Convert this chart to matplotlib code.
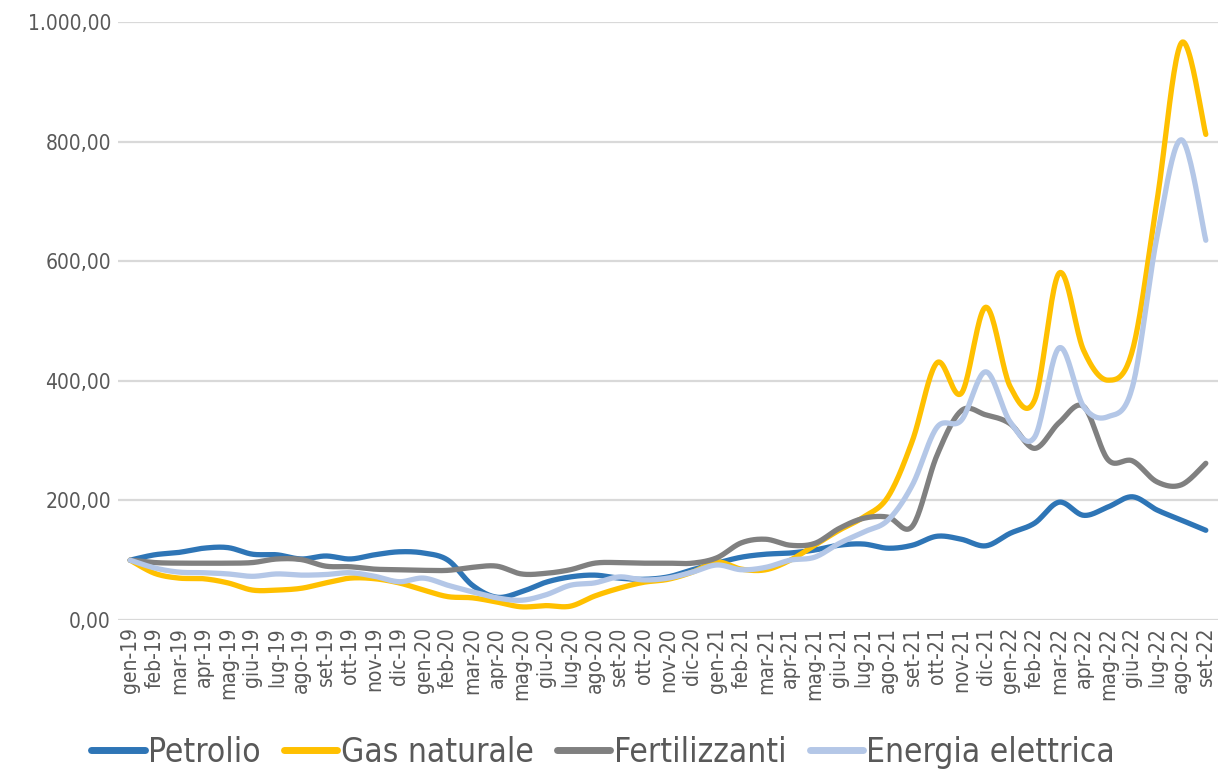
import numpy as np
import matplotlib
matplotlib.use("Agg")
import matplotlib.pyplot as plt
from matplotlib.ticker import FuncFormatter

plt.rcParams['font.family'] = ['Liberation Sans Narrow', 'DejaVu Sans']
plt.rcParams['font.stretch'] = 'condensed'

mesi = ["gen", "feb", "mar", "apr", "mag", "giu", "lug", "ago", "set", "ott", "nov", "dic"]
labels = [m + "-" + a for a in ["19", "20", "21", "22"] for m in mesi][:45]

petrolio = [100, 109, 113, 120, 121, 110, 109, 102, 107, 102, 109, 114, 112, 100, 58, 38, 47, 63, 72, 75,
            70, 68, 72, 84, 95, 105, 110, 112, 117, 125, 127, 120, 125, 140, 135, 124, 145, 162, 197, 175,
            189, 206, 184, 167, 150]
gas = [100, 78, 70, 69, 62, 50, 50, 53, 62, 70, 69, 62, 50, 39, 37, 30, 22, 24, 23, 40,
       53, 63, 68, 80, 97, 85, 84, 100, 125, 150, 172, 206, 300, 430, 379, 523, 390, 368, 580, 451,
       401, 451, 700, 965, 812]
fertilizzanti = [100, 96, 95, 95, 95, 96, 102, 101, 90, 89, 85, 84, 83, 83, 88, 90, 77, 78, 84, 95,
                 96, 95, 95, 95, 104, 129, 135, 125, 128, 153, 170, 172, 157, 275, 350, 343, 328, 287, 330, 357,
                 268, 266, 231, 226, 262]
elettrica = [100, 87, 80, 79, 77, 73, 77, 75, 76, 79, 73, 64, 70, 58, 47, 37, 33, 42, 58, 62,
             72, 67, 70, 80, 92, 84, 88, 100, 105, 128, 147, 167, 226, 322, 334, 415, 331, 306, 455, 357,
             340, 390, 640, 803, 635]

series = [("Petrolio", petrolio, "#2E75B6"),
          ("Gas naturale", gas, "#FFC000"),
          ("Fertilizzanti", fertilizzanti, "#808080"),
          ("Energia elettrica", elettrica, "#B4C7E7")]


# curva smussata stile Excel (Catmull-Rom / Bezier)
def smooth(y, n=24):
    p = np.column_stack([np.arange(len(y)), np.asarray(y, float)])
    out = []
    t = np.linspace(0, 1, n)[:, None]
    for i in range(len(p) - 1):
        p0 = p[i - 1] if i > 0 else p[i]
        p3 = p[i + 2] if i + 2 < len(p) else p[i + 1]
        c1 = p[i] + (p[i + 1] - p0) / 6
        c2 = p[i + 1] - (p3 - p[i]) / 6
        seg = ((1 - t) ** 3) * p[i] + 3 * ((1 - t) ** 2) * t * c1 + 3 * (1 - t) * t ** 2 * c2 + t ** 3 * p[i + 1]
        out.append(seg if i == 0 else seg[1:])
    s = np.vstack(out)
    return s[:, 0], s[:, 1]


fig = plt.figure(figsize=(12.26, 7.74), dpi=100)
ax = fig.add_axes([0.0962, 0.199, 0.8973, 0.7726])

for name, vals, col in series:
    xs, ys = smooth(vals)
    ax.plot(xs, ys, color=col, lw=3.8, label=name, solid_capstyle='round')

ax.set_xlim(-0.5, len(labels) - 0.5)
ax.set_ylim(0, 1000)
ax.set_yticks(np.arange(0, 1001, 200))
ax.yaxis.set_major_formatter(FuncFormatter(
    lambda v, p: f"{v:,.2f}".replace(",", "X").replace(".", ",").replace("X", ".")))
ax.set_xticks(range(len(labels)))
ax.set_xticklabels(labels, rotation=90)
ax.tick_params(axis='both', length=0, colors="#595959", labelsize=15)
ax.tick_params(axis='y', pad=5)
ax.tick_params(axis='x', pad=5)
ax.grid(axis='y', color="#D9D9D9", lw=1.6)
ax.set_axisbelow(True)
for s in ax.spines.values():
    s.set_visible(False)

leg = fig.legend(loc='center', bbox_to_anchor=(0.492, 0.028), ncol=4, frameon=False,
                 fontsize=24, handlelength=1.6, handletextpad=0.1, columnspacing=0.7)
for t in leg.get_texts():
    t.set_color("#595959")
for h in leg.get_lines():
    h.set_linewidth(5)

fig.savefig("out.png", dpi=100)
